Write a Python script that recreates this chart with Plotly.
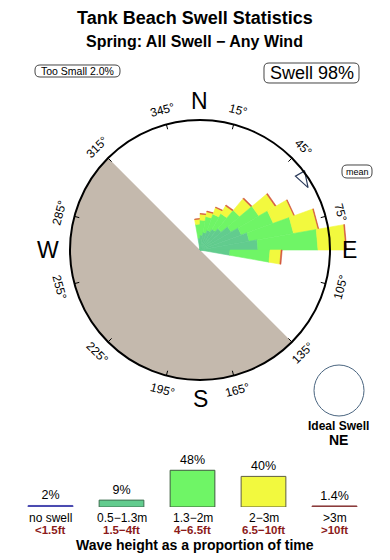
import math
import plotly.graph_objects as go

W, H = 390, 560


def px(x):
    return x / W


def py(y):
    return 1 - y / H


# ---------------- data ----------------
directions = [355, 5, 15, 25, 35, 45, 55, 65, 75, 85, 95]   # sector centres (deg)
sector_width = 10
# stacked band contributions per direction (circle = 10 units)
band_05_13 = [0.92, 1.15, 1.38, 1.62, 1.85, 2.15, 2.77, 3.38, 3.85, 4.46, 2.31]
band_13_2 = [1.08, 1.15, 1.23, 1.31, 1.38, 1.85, 2.46, 2.62, 3.46, 4.62, 3.08]
band_2_3 = [0.38, 0.46, 0.38, 0.54, 0.69, 1.15, 1.46, 1.69, 1.92, 2.15, 0.85]
band_gt3 = [0.04, 0.05, 0.05, 0.05, 0.08, 0.08, 0.08, 0.05, 0.05, 0.06, 0.08]

land_centre = 225
land_span = 180
land_radius = 10
mean_direction = 60

too_small_pct = 2.0
swell_pct = 98

deg_ticks = [15, 45, 75, 105, 135, 165, 195, 225, 255, 285, 315, 345]
compass_names = ["N", "E", "S", "W"]
compass_deg = [0, 90, 180, 270]

leg_cats = ["no swell", "0.5−1.3m", "1.3−2m", "2−3m", ">3m"]
leg_ft = ["<1.5ft", "1.5−4ft", "4−6.5ft", "6.5−10ft", ">10ft"]
leg_pct = [2, 9, 48, 40, 1.4]

# ---------------- styles ----------------
C_MED = "#62cc8e"
C_GRN = "#6ff566"
C_YEL = "#f2f93e"
C_RED = "#d4573c"
C_LAND = "#c4b9ad"
FONT = "Liberation Sans, Arial, sans-serif"

CX, CY = 200, 250      # rose centre in px
R_FRAME = 130          # circle radius px
R_BARS = 160           # polar radius px (room for bars past the circle)
UNIT = R_FRAME / 10.0  # px per unit

fig = go.Figure()

# land sector (under the bars)
fig.add_trace(go.Barpolar(r=[land_radius], theta=[land_centre], width=[land_span],
                          marker=dict(color=C_LAND, line=dict(width=0)),
                          subplot="polar", hoverinfo="skip"))

# stacked rose wedges, drawn as straight-edged sectors on the polar axes
bands = [band_05_13, band_13_2, band_2_3, band_gt3]
colors = [C_MED, C_GRN, C_YEL, C_RED]
for i, d in enumerate(directions):
    base = 0.0
    a0 = d - sector_width / 2
    a1 = d + sector_width / 2
    for vals, col in zip(bands, colors):
        top = base + vals[i]
        fig.add_trace(go.Scatterpolar(
            r=[base, top, top, base, base], theta=[a0, a0, a1, a1, a0],
            mode="lines", fill="toself", fillcolor=col,
            line=dict(color=col, width=0.6),
            subplot="polar", hoverinfo="skip"))
        base = top

fig.add_trace(go.Scatterpolar(r=[9.6], theta=[mean_direction], mode="markers",
                              marker=dict(symbol="arrow-open", size=17, angle=150,
                                          color="#2b3b5b", line=dict(color="#2b3b5b", width=1.2)),
                              cliponaxis=False, subplot="polar", hoverinfo="skip"))

# legend bars
fig.add_trace(go.Bar(x=list(range(len(leg_cats))), y=leg_pct, width=0.63,
                     marker=dict(color=["#4a4ab0", "#62cc8e", "#6ff566", "#f2f93e", "#8b3c3c"],
                                 line=dict(color=["#4a4ab0", "#3f6f50", "#3c5c3c", "#5f5f3f", "#8b3c3c"],
                                           width=1)),
                     texttemplate="%{y}%", textposition="outside", cliponaxis=False,
                     textfont=dict(size=12.5, color="black", family=FONT),
                     xaxis="x", yaxis="y", hoverinfo="skip"))

annotations = []
shapes = []


def ann(text, x, y, size, bold=False, color="black", **kw):
    d = dict(text=text, x=px(x), y=py(y), xref="paper", yref="paper", showarrow=False,
             xanchor="center", yanchor="middle",
             font=dict(size=size, color=color, family=FONT, weight="bold" if bold else "normal"))
    d.update(kw)
    annotations.append(d)


def rounded_box(x0, y0, x1, y1, r=5):
    def P(x, y):
        return f"{px(x):.5f},{py(y):.5f}"
    path = (f"M {P(x0 + r, y0)} L {P(x1 - r, y0)} Q {P(x1, y0)} {P(x1, y0 + r)} "
            f"L {P(x1, y1 - r)} Q {P(x1, y1)} {P(x1 - r, y1)} "
            f"L {P(x0 + r, y1)} Q {P(x0, y1)} {P(x0, y1 - r)} "
            f"L {P(x0, y0 + r)} Q {P(x0, y0)} {P(x0 + r, y0)} Z")
    shapes.append(dict(type="path", path=path, xref="paper", yref="paper",
                       line=dict(color="#444", width=1)))


ann("Tank Beach Swell Statistics", 195, 18, 18, bold=True)
ann("Spring: All Swell − Any Wind", 194, 42, 16, bold=True)
rounded_box(35, 65, 120, 77)
ann(f"Too Small {too_small_pct:.1f}%", 77.5, 71, 10.5)
rounded_box(264, 63, 359, 83)
ann(f"Swell {swell_pct}%", 311.5, 73, 18)
rounded_box(342, 165, 372, 178)
ann("mean", 357, 171.5, 9)
ann("Ideal Swell", 338, 426, 12, bold=True)
ann("NE", 338, 440, 14, bold=True)
ann("Wave height as a proportion of time", 195, 545, 14, bold=True)

for d in deg_ticks:
    a = math.radians(d)
    x = CX + 145 * math.sin(a)
    y = CY - 145 * math.cos(a)
    if d < 90:
        ta = d
    elif d > 270:
        ta = d - 360
    else:
        ta = d - 180
    ann(f"{d}°", x, y, 12, textangle=ta)
    # inside tick marks on the circle
    shapes.append(dict(type="line", xref="paper", yref="paper",
                       x0=px(CX + (R_FRAME - 5) * math.sin(a)), y0=py(CY - (R_FRAME - 5) * math.cos(a)),
                       x1=px(CX + R_FRAME * math.sin(a)), y1=py(CY - R_FRAME * math.cos(a)),
                       line=dict(color="black", width=1)))

for name, d in zip(compass_names, compass_deg):
    a = math.radians(d)
    rr = 152 if name == "W" else 149
    ann(name, CX + rr * math.sin(a), CY - rr * math.cos(a), 23)

for i, (c, f) in enumerate(zip(leg_cats, leg_ft)):
    annotations.append(dict(text=c, x=i, xref="x", y=py(518), yref="paper", showarrow=False,
                            xanchor="center", yanchor="middle",
                            font=dict(size=12, color="black", family=FONT)))
    annotations.append(dict(text=f, x=i, xref="x", y=py(530), yref="paper", showarrow=False,
                            xanchor="center", yanchor="middle",
                            font=dict(size=11.5, color="#8b1a1a", family=FONT, weight="bold")))

# compass circle
shapes.append(dict(type="circle", xref="paper", yref="paper",
                   x0=px(CX - R_FRAME), x1=px(CX + R_FRAME), y0=py(CY + R_FRAME), y1=py(CY - R_FRAME),
                   line=dict(color="black", width=2)))
# ideal swell circle
shapes.append(dict(type="circle", xref="paper", yref="paper",
                   x0=px(314), x1=px(364), y0=py(416), y1=py(365),
                   line=dict(color="#4a6580", width=1)))

fig.update_layout(
    width=W, height=H, template="none",
    margin=dict(l=0, r=0, t=0, b=0),
    paper_bgcolor="white", plot_bgcolor="white",
    showlegend=False,
    font=dict(family=FONT),
    polar=dict(
        domain=dict(x=[px(CX - R_BARS), px(CX + R_BARS)], y=[py(CY + R_BARS), py(CY - R_BARS)]),
        bgcolor="rgba(0,0,0,0)", barmode="stack",
        radialaxis=dict(range=[0, R_BARS / UNIT], visible=False, showgrid=False),
        angularaxis=dict(showline=False, showgrid=False, showticklabels=False, ticks="",
                         rotation=90, direction="clockwise"),
    ),
    xaxis=dict(domain=[px(15), px(370)], range=[-0.5, 4.5], visible=False, fixedrange=True),
    yaxis=dict(domain=[py(507), py(507 - 45.9)], range=[0, 60], visible=False, fixedrange=True),
    annotations=annotations,
    shapes=shapes,
)

fig.write_html("out.html")
